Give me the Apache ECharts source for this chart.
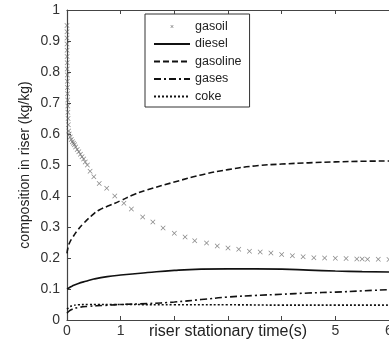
<!DOCTYPE html>
<html>
<head>
<meta charset="utf-8">
<script src="https://cdn.jsdelivr.net/npm/echarts@6/dist/echarts.min.js"></script>
<style>
  html, body { margin: 0; padding: 0; background: #fff; }
  #chart { width: 389px; height: 342px; }
</style>
</head>
<body>
<div id="chart"></div>
<script>
// riser stationary time (s) and composition (kg/kg)
const gasoilTime = [0, 0, 0, 0, 0.002, 0.002, 0.004, 0.004, 0.006, 0.006, 0.008, 0.01, 0.012, 0.014, 0.016, 0.02, 0.025, 0.03,
  0.04, 0.06, 0.08, 0.1, 0.12, 0.14, 0.16, 0.19, 0.22, 0.25, 0.28, 0.31, 0.34, 0.38, 0.43, 0.5, 0.6, 0.74, 0.89, 1.06, 1.2,
  1.41, 1.6, 1.79, 2.0, 2.2, 2.38, 2.6, 2.8, 3.0, 3.2, 3.4, 3.6, 3.8, 4.0, 4.2, 4.4, 4.6, 4.8, 5.0, 5.2, 5.4, 5.5, 5.6, 5.8, 6.0];
const gasoilValue = [0.95, 0.93, 0.91, 0.89, 0.87, 0.85, 0.83, 0.81, 0.79, 0.77, 0.75, 0.73, 0.71, 0.69, 0.67, 0.65, 0.63, 0.61,
  0.6, 0.59, 0.582, 0.575, 0.57, 0.565, 0.558, 0.55, 0.543, 0.535, 0.527, 0.519, 0.51, 0.5, 0.48, 0.462, 0.44, 0.425, 0.40, 0.377, 0.358,
  0.332, 0.316, 0.297, 0.28, 0.268, 0.256, 0.248, 0.239, 0.232, 0.228, 0.222, 0.219, 0.216, 0.211, 0.207, 0.204, 0.201, 0.2, 0.199, 0.198, 0.197, 0.197, 0.196, 0.196, 0.195];

const dieselTime = [0, 0.05, 0.1, 0.2, 0.35, 0.5, 0.75, 1.0, 1.5, 2.0, 2.5, 3.0, 3.5, 4.0, 4.5, 5.0, 5.5, 6.0];
const dieselValue = [0.1, 0.105, 0.11, 0.117, 0.125, 0.132, 0.14, 0.145, 0.153, 0.16, 0.164, 0.165, 0.165, 0.164, 0.161, 0.158, 0.156, 0.155];

const gasolineTime = [0, 0.02, 0.05, 0.1, 0.2, 0.3, 0.45, 0.6, 0.8, 1.0, 1.25, 1.5, 2.0, 2.5, 3.0, 3.5, 4.0, 4.5, 5.0, 5.5, 6.0];
const gasolineValue = [0.215, 0.235, 0.25, 0.265, 0.29, 0.31, 0.335, 0.355, 0.37, 0.385, 0.405, 0.42, 0.445, 0.468, 0.485, 0.497, 0.503, 0.507, 0.51, 0.512, 0.513];

const gasesTime = [0, 0.05, 0.1, 0.2, 0.4, 0.7, 1.0, 1.5, 2.0, 2.5, 3.0, 3.5, 4.0, 4.5, 5.0, 5.5, 6.0];
const gasesValue = [0.022, 0.03, 0.035, 0.04, 0.044, 0.047, 0.05, 0.053, 0.058, 0.066, 0.074, 0.079, 0.083, 0.087, 0.09, 0.094, 0.098];

const cokeTime = [0, 0.05, 0.1, 0.2, 0.4, 1.0, 2.0, 3.0, 4.0, 5.0, 6.0];
const cokeValue = [0.035, 0.042, 0.046, 0.049, 0.05, 0.05, 0.049, 0.049, 0.048, 0.048, 0.048];

const xTickLabels = { 0: '0', 1: '1', 5: '5', 6: '6' };

const pairs = (t, v) => t.map((x, i) => [x, v[i]]);
const crossPath = 'path://M0,1L1,0L5,4L9,0L10,1L6,5L10,9L9,10L5,6L1,10L0,9L4,5Z';
// same cross but padded with empty moves so it stays small in the legend
const crossIcon = 'path://M0,0M30,30M11,12L12,11L15,14L18,11L19,12L16,15L19,18L18,19L15,16L12,19L11,18L14,15Z';
const font = 'Liberation Sans, Arial, sans-serif';

const myChart = echarts.init(document.getElementById('chart'));

const lineSeries = (name, t, v, type) => ({
  name: name,
  type: 'line',
  symbol: 'none',
  smooth: true,
  data: pairs(t, v),
  itemStyle: { color: '#111' },
  lineStyle: { color: '#111', width: 1.6, type: type },
  z: 3,
});

const lineLegend = (name) => ({ name: name, itemStyle: { opacity: 0 } });

myChart.setOption({
  animation: false,
  grid: { left: 67, right: 0, top: 10, bottom: 22, outerBoundsMode: 'none' },
  legend: {
    left: 145,
    top: 14,
    orient: 'vertical',
    backgroundColor: '#fff',
    borderColor: '#333',
    borderWidth: 1,
    padding: [6, 8, 4, 8],
    itemWidth: 36,
    itemHeight: 12,
    itemGap: 4.5,
    textStyle: { fontFamily: font, fontSize: 12.5, lineHeight: 12, color: '#222' },
    data: [
      { name: 'gasoil', icon: crossIcon, itemStyle: { color: '#555' } },
      lineLegend('diesel'),
      lineLegend('gasoline'),
      lineLegend('gases'),
      lineLegend('coke'),
    ],
  },
  xAxis: [
    {
      type: 'value',
      min: 0,
      max: 6,
      interval: 1,
      name: 'riser stationary time(s)',
      nameLocation: 'middle',
      nameGap: 4,
      nameMoveOverlap: false,
      nameTextStyle: { fontFamily: font, fontSize: 16, color: '#222' },
      axisLine: { lineStyle: { color: '#444', width: 1.2 } },
      axisTick: { inside: true, length: 4, lineStyle: { color: '#444' } },
      axisLabel: {
        margin: 4,
        fontFamily: font,
        fontSize: 14,
        color: '#333',
        formatter: (v) => (xTickLabels[v] !== undefined ? xTickLabels[v] : ''),
      },
      splitLine: { show: false },
    },
    {
      type: 'value',
      position: 'top',
      min: 0,
      max: 6,
      interval: 1,
      axisLine: { lineStyle: { color: '#444', width: 1.2 } },
      axisTick: { inside: true, length: 4, lineStyle: { color: '#444' } },
      axisLabel: { show: false },
      splitLine: { show: false },
    },
  ],
  yAxis: {
    type: 'value',
    min: 0,
    max: 1,
    interval: 0.1,
    name: 'composition in riser (kg/kg)',
    nameLocation: 'middle',
    nameGap: 35,
    nameMoveOverlap: false,
    nameTextStyle: { fontFamily: font, fontSize: 14, color: '#222' },
    axisLine: { show: true, lineStyle: { color: '#444', width: 1.2 } },
    axisTick: { show: true, inside: true, length: 4, lineStyle: { color: '#444' } },
    axisLabel: {
      margin: 7,
      fontFamily: font,
      fontSize: 14,
      color: '#333',
      formatter: (v) => (v === 0 ? '0' : v === 1 ? '1' : v.toFixed(1)),
    },
    splitLine: { show: false },
  },
  series: [
    {
      name: 'gasoil',
      type: 'scatter',
      symbol: crossPath,
      symbolSize: 5,
      itemStyle: { color: '#666' },
      data: pairs(gasoilTime, gasoilValue),
      z: 2,
    },
    lineSeries('diesel', dieselTime, dieselValue, 'solid'),
    lineSeries('gasoline', gasolineTime, gasolineValue, [6, 3]),
    lineSeries('gases', gasesTime, gasesValue, [7, 3, 2, 3]),
    lineSeries('coke', cokeTime, cokeValue, [2, 2]),
  ],
});
</script>
</body>
</html>
